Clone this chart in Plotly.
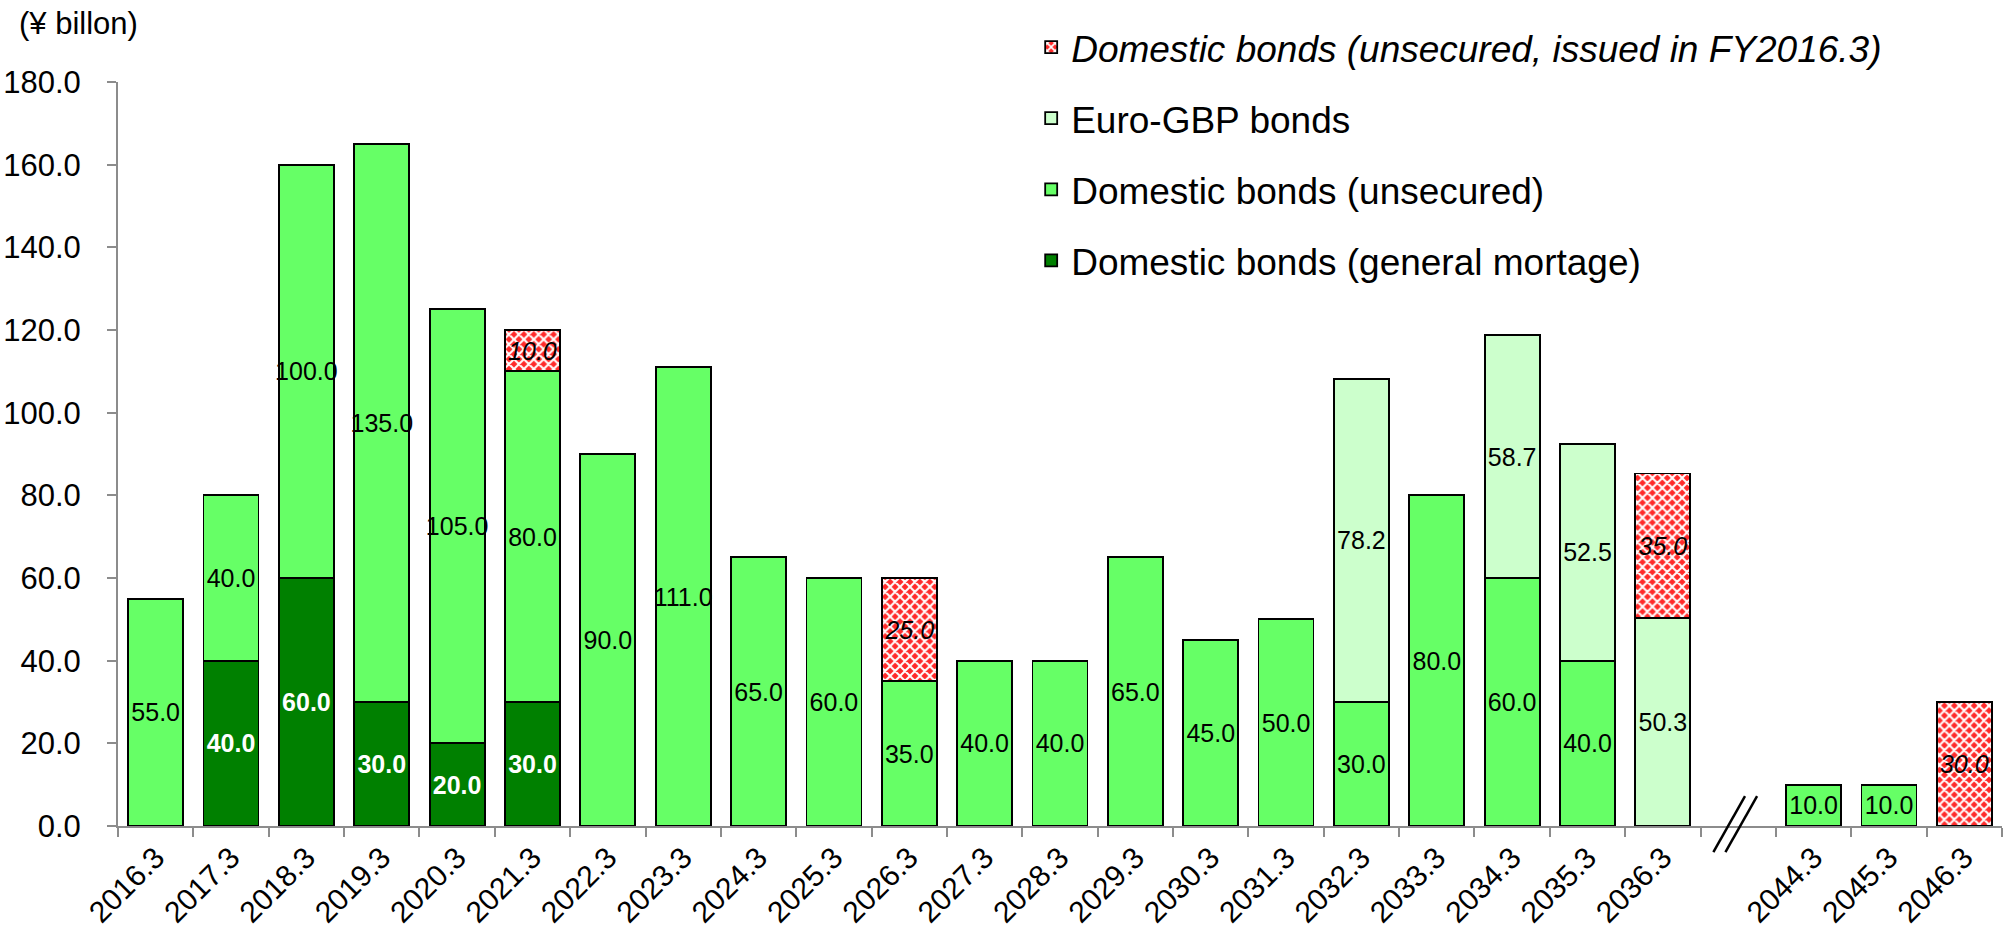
import plotly.graph_objects as go

categories = ["2016.3", "2017.3", "2018.3", "2019.3", "2020.3", "2021.3", "2022.3",
              "2023.3", "2024.3", "2025.3", "2026.3", "2027.3", "2028.3", "2029.3",
              "2030.3", "2031.3", "2032.3", "2033.3", "2034.3", "2035.3", "2036.3",
              " ", "2044.3", "2045.3", "2046.3"]

mortgage = [None, 40, 60, 30, 20, 30, None, None, None, None, None, None, None, None,
            None, None, None, None, None, None, None, None, None, None, None]
unsecured = [55, 40, 100, 135, 105, 80, 90, 111, 65, 60, 35, 40, 40, 65,
             45, 50, 30, 80, 60, 40, None, None, 10, 10, None]
euro_gbp = [None, None, None, None, None, None, None, None, None, None, None, None, None, None,
            None, None, 78.2, None, 58.7, 52.5, 50.3, None, None, None, None]
issued_2016 = [None, None, None, None, None, 10, None, None, None, None, 25, None, None, None,
               None, None, None, None, None, None, 35, None, None, None, 30]

FONT = "Arial, Liberation Sans, sans-serif"
LINE = dict(color="black", width=1.8)

fig = go.Figure()

common = dict(textposition="inside", insidetextanchor="middle", constraintext="none",
              textangle=0, cliponaxis=False)

fig.add_trace(go.Bar(
    x=categories, y=mortgage, name="Domestic bonds (general mortage)",
    legendgroup="g1", legendrank=4,
    marker=dict(color="#008000", line=LINE),
    texttemplate="<b>%{y:.1f}</b>", textfont=dict(color="white", size=25, family=FONT),
    **common))
fig.add_trace(go.Bar(
    x=categories, y=unsecured, name="Domestic bonds (unsecured)",
    legendgroup="g2", legendrank=3,
    marker=dict(color="#66FF66", line=LINE),
    texttemplate="%{y:.1f}", textfont=dict(color="black", size=25, family=FONT),
    **common))
fig.add_trace(go.Bar(
    x=categories, y=euro_gbp, name="Euro-GBP bonds",
    legendgroup="g3", legendrank=2,
    marker=dict(color="#CCFFCC", line=LINE),
    texttemplate="%{y:.1f}", textfont=dict(color="black", size=25, family=FONT),
    **common))
fig.add_trace(go.Bar(
    x=categories, y=issued_2016, name="<i>Domestic bonds (unsecured, issued in FY2016.3)</i>",
    legendgroup="g4", legendrank=1,
    marker=dict(color="#FF3030", line=LINE,
                pattern=dict(shape="x", fgcolor="white", bgcolor="#FF2A2A",
                             size=7, solidity=0.5, fillmode="replace")),
    texttemplate="<i>%{y:.1f}</i>", textfont=dict(color="black", size=25, family=FONT),
    **common))

# axis break marker "//" on the empty slot
gap_idx = categories.index(" ")
for dx in (-0.33, -0.17):
    fig.add_shape(type="line", xref="x", yref="paper",
                  x0=gap_idx + dx, x1=gap_idx + dx + 0.42, y0=-0.035, y1=0.04,
                  line=dict(color="black", width=2.5))

fig.add_annotation(text="(¥ billon)", xref="paper", yref="paper", x=0, y=1,
                   xanchor="left", yanchor="middle", xshift=-101, yshift=59,
                   showarrow=False, font=dict(size=31, family=FONT, color="black"))

fig.update_layout(
    width=2005, height=937,
    margin=dict(l=118, r=3, t=82, b=111),
    barmode="stack", bargap=0.27,
    plot_bgcolor="white", paper_bgcolor="white",
    font=dict(family=FONT, color="black"),
    showlegend=True,
    legend=dict(x=0.4847, y=1.088, xanchor="left", yanchor="top",
                traceorder="grouped", font=dict(size=37, family=FONT),
                bgcolor="rgba(0,0,0,0)", itemwidth=30, tracegroupgap=20),
    xaxis=dict(type="category", showline=True, linecolor="#8C8C8C", linewidth=2,
               ticks="outside", tickson="boundaries", ticklen=9, tickcolor="#8C8C8C",
               tickwidth=2, tickangle=-45, tickfont=dict(size=30, family=FONT),
               automargin=False, showgrid=False, zeroline=False),
    yaxis=dict(range=[0, 180], dtick=20, tickformat=".1f", showline=True,
               linecolor="#8C8C8C", linewidth=2, ticks="outside", ticklen=9,
               tickcolor="#8C8C8C", tickwidth=2, tickfont=dict(size=31, family=FONT),
               ticklabelstandoff=20, automargin=False,
               showgrid=False, zeroline=False),
)

fig.write_html("out.html")
